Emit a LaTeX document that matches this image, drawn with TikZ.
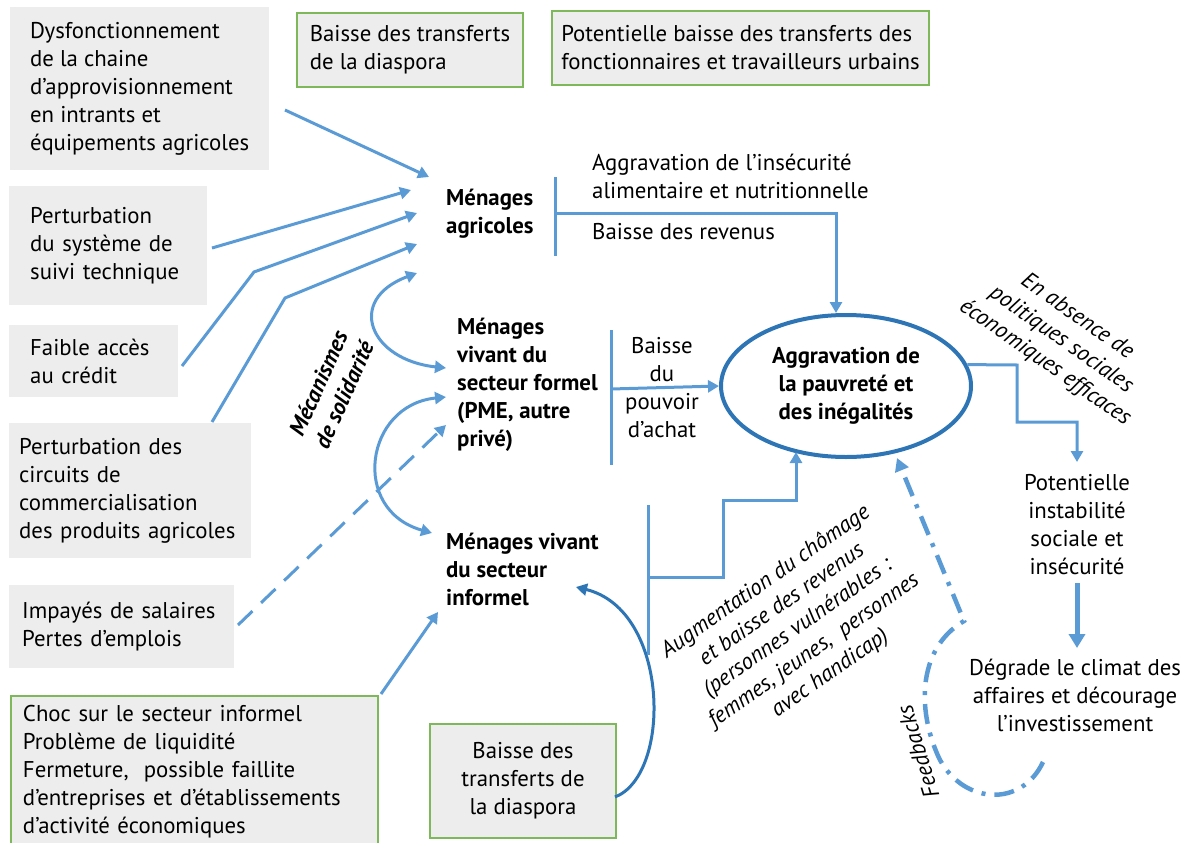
\documentclass[tikz,border=0pt]{standalone}
\usepackage{fontspec}
\setmainfont{PT Sans}
\usetikzlibrary{arrows.meta,shapes.geometric}
\definecolor{lblue}{HTML}{5B9BD5}
\definecolor{dblue}{HTML}{2E75B6}
\definecolor{boxgray}{HTML}{EDEDED}
\definecolor{boxgreen}{HTML}{7DB85A}
\newcommand{\txtsize}{\fontsize{22.8}{28}\selectfont}
\begin{document}
\begin{tikzpicture}[x=1pt,y=-1pt,
  every node/.style={font=\txtsize, inner sep=0pt},
  gbox/.style={fill=boxgray, anchor=north west, align=left},
  grbox/.style={gbox, draw=boxgreen, line width=2pt},
  hh/.style={font=\txtsize\bfseries, align=left, anchor=west},
  plain/.style={align=left},
  itx/.style={font=\txtsize\itshape, align=center},
  bitx/.style={font=\txtsize\bfseries\itshape, align=center},
  link/.style={draw=lblue, line width=3pt, -{Triangle[length=11pt,width=12pt]}},
  bar/.style={draw=lblue, line width=3pt},
  twoway/.style={draw=lblue, line width=3pt, {Triangle[length=11pt,width=12pt]}-{Triangle[length=11pt,width=12pt]}},
  darklink/.style={draw=dblue, line width=3pt, -{Triangle[length=11pt,width=12pt]}},
  thicklink/.style={draw=lblue, line width=5pt, -{Triangle[length=14pt,width=16pt]}},
  feedback/.style={draw=lblue, line width=4.5pt, dash pattern=on 20pt off 9pt on 4pt off 9pt, -{Triangle[length=13pt,width=14pt]}}
]
\useasboundingbox (0,0) rectangle (1189,843);

% --- causes (left column and top row) ---
\node[gbox, minimum width=259pt, minimum height=163pt] (dysf) at (10,7)
  {Dysfonctionnement\\de la chaine\\d’approvisionnement\\en intrants et\\équipements agricoles};
\node[grbox, minimum width=226pt, minimum height=74pt] (diaspA) at (296,12)
  {Baisse des transferts\\de la diaspora};
\node[grbox, minimum width=377pt, minimum height=74pt] (fonct) at (551,10)
  {Potentielle baisse des transferts des\\fonctionnaires et travailleurs urbains};
\node[gbox, minimum height=119pt, inner xsep=21pt, text width=156pt] (suivi) at (9,186)
  {Perturbation\\du système de\\suivi technique};
\node[gbox, minimum height=72pt, inner xsep=21pt, text width=127pt] (credit) at (9,325)
  {Faible accès\\au crédit};
\node[gbox, minimum height=135pt, inner xsep=10pt, text width=222pt] (circuits) at (9,423)
  {Perturbation des\\circuits de\\commercialisation\\des produits agricoles};
\node[gbox, minimum height=83pt, inner xsep=13pt, text width=199pt] (impayes) at (9,585)
  {Impayés de salaires\\Pertes d’emplois};
\node[grbox, minimum height=152pt, inner xsep=12pt, text width=343pt] (choc) at (10,695)
  {Choc sur le secteur informel\\Problème de liquidité\\Fermeture,\ \ possible faillite\\d’entreprises et d’établissements\\d’activité économiques};
\node[grbox, align=center, minimum width=186pt, minimum height=114pt] (diaspB) at (429,723)
  {Baisse des\\transferts de\\la diaspora};

% --- households ---
\node[hh] (agri) at (446,214) {Ménages\\agricoles};
\node[hh] (formel) at (457,385) {Ménages\\vivant du\\secteur formel\\(PME, autre\\privé)};
\node[hh] (informel) at (446,569) {Ménages vivant\\du secteur\\informel};

% --- effects ---
\node[plain, anchor=west] (insec) at (592,176) {Aggravation de l’insécurité\\alimentaire et nutritionnelle};
\node[plain, anchor=west] (revenus) at (592,232) {Baisse des revenus};
\node[plain, align=center] (achat) at (662,388) {Baisse\\du\\pouvoir\\d’achat};
\node[ellipse, draw=dblue, line width=4pt, minimum width=250pt, minimum height=142pt,
      align=center, font=\txtsize\bfseries] (pauv) at (846,386)
  {Aggravation de\\la pauvreté et\\des inégalités};
\node[plain, align=center] (instab) at (1077,525) {Potentielle\\instabilité\\sociale et\\insécurité};
\node[plain, align=center] (climat) at (1075,695) {Dégrade le climat des\\affaires et décourage\\l’investissement};

% --- rotated annotations ---
\node[itx, rotate=-35] (absence) at (1061,340) {En absence de\\politiques sociales\\économiques efficaces};
\node[bitx, rotate=66] (solid) at (331,389) {Mécanismes\\de solidarité};
\node[itx, rotate=107] (fbtext) at (918,752) {Feedbacks};
\node[itx, rotate=35] (chom) at (798,628)
  {Augmentation du chômage\\et baisse des revenus\\(personnes vulnérables :\\femmes, jeunes,\ \ personnes\\avec handicap)};

% --- connector end points ---
\coordinate (dysfOut) at (285,110);   \coordinate (agriIn1) at (429,177);
\coordinate (suiviOut) at (212,248);  \coordinate (agriIn2) at (411,190);
\coordinate (creditOut) at (182,366); \coordinate (creditBend) at (254,272); \coordinate (agriIn3) at (417,213);
\coordinate (circOut) at (212,422);   \coordinate (circBend) at (285,298);   \coordinate (agriIn4) at (417,244);
\coordinate (agriTop) at (417,273);   \coordinate (formelIn1) at (446,368);
\coordinate (formelIn2) at (446,397); \coordinate (informelIn1) at (432,533);
\coordinate (impOut) at (238,625);    \coordinate (formelIn3) at (446,425);
\coordinate (chocOut) at (381,694);   \coordinate (informelIn2) at (438,612);
\coordinate (diaspOut) at (615,797);  \coordinate (informelIn3) at (576,587);
\coordinate (agriBarT) at (555,177);  \coordinate (agriBarB) at (555,256);
\coordinate (agriBarM) at (555,213);  \coordinate (agriCorner) at (836,213);
\coordinate (formBarT) at (611,330);  \coordinate (formBarB) at (611,465);
\coordinate (formBarM) at (611,389);
\coordinate (infBarT) at (648,505);   \coordinate (infBarB) at (648,655);
\coordinate (infBarM) at (648,577);
\coordinate (instabIn) at (1077,462);
\coordinate (instabOut) at (1077,583); \coordinate (climatIn) at (1077,648);
\coordinate (fbStart) at (1043,762);  \coordinate (fbTurn) at (964,621); \coordinate (fbTip) at (897,458);

% --- causes towards households ---
\draw[link] (dysfOut) -- (agriIn1);
\draw[link] (suiviOut) -- (agriIn2);
\draw[link] (creditOut) -- (creditBend) -- (agriIn3);
\draw[link] (circOut) -- (circBend) -- (agriIn4);
\draw[link, dash pattern=on 20pt off 12pt] (impOut) -- (formelIn3);
\draw[link] (chocOut) -- (informelIn2);
\draw[darklink] (diaspOut) .. controls (672,775) and (670,610) .. (informelIn3);

% --- solidarity between households ---
\draw[twoway] (formelIn1) .. controls (370,360) and (345,300) .. (agriTop);
\draw[twoway] (formelIn2) .. controls (365,405) and (350,510) .. (informelIn1);

% --- household effects towards poverty ---
\draw[bar] (agriBarT) -- (agriBarB);
\draw[link] (agriBarM) -- (agriCorner) -- (agriCorner |- pauv.north);
\draw[bar] (formBarT) -- (formBarB);
\draw[link] (formBarM) -- (pauv.west);
\draw[bar] (infBarT) -- (infBarB);
\draw[link] (infBarM) -- (723,577) -- (723,500) -- (796,500) -- (796,452);

% --- consequences ---
\draw[link] (pauv.10) -- (1017,365) -- (1017,422) -- (1077,422) -- (instabIn);
\draw[thicklink] (instabOut) -- (climatIn);
\draw[feedback] (fbStart) .. controls (1022,807) and (965,805) .. (940,760)
  .. controls (918,715) and (915,650) .. (fbTurn) -- (fbTip);
\end{tikzpicture}
\end{document}
